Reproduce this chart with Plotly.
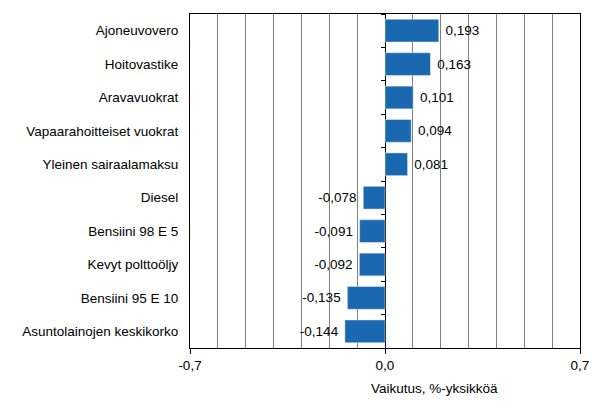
import plotly.graph_objs as go

categories = ["Ajoneuvovero", "Hoitovastike", "Aravavuokrat", "Vapaarahoitteiset vuokrat",
              "Yleinen sairaalamaksu", "Diesel", "Bensiini 98 E 5", "Kevyt polttoöljy",
              "Bensiini 95 E 10", "Asuntolainojen keskikorko"]
values = [0.193, 0.163, 0.101, 0.094, 0.081, -0.078, -0.091, -0.092, -0.135, -0.144]
tick_vals = [-0.7, 0.0, 0.7]
tick_text = ["-0,7", "0,0", "0,7"]

bar_color = "rgb(26,104,176)"
font = dict(family="Liberation Sans, Arial", size=13.5, color="black")

# value labels with a little extra room from the bar end
labels = []
for v in values:
    s = ("%.3f" % v).replace(".", ",")
    labels.append("\u00a0" + s if v > 0 else s + "\u00a0")

fig = go.Figure()
fig.add_trace(go.Bar(x=values, y=categories, orientation="h",
                     marker=dict(color=bar_color, line=dict(width=0)),
                     text=labels, textposition="outside", cliponaxis=False,
                     textfont=font, showlegend=False, hoverinfo="skip"))
# invisible copy, only used to draw the small ticks on the zero line
fig.add_trace(go.Bar(x=values, y=categories, orientation="h", yaxis="y2",
                     marker=dict(color="rgba(0,0,0,0)"), showlegend=False,
                     hoverinfo="skip"))

# page body has an 8px margin, so the figure is 8px smaller than the window
fig.update_layout(
    width=597, height=408,
    margin=dict(l=182, r=25, t=6, b=68, autoexpand=False),
    paper_bgcolor="white", plot_bgcolor="white",
    bargap=0.32,
    font=font,
    xaxis=dict(range=[-0.7, 0.7], tickvals=tick_vals, ticktext=tick_text,
               ticks="outside", ticklen=5, tickcolor="black", automargin=False,
               showline=True, linecolor="black", linewidth=1, mirror=True,
               showgrid=False, zeroline=True, zerolinecolor="black", zerolinewidth=1,
               minor=dict(dtick=0.1, tick0=0, showgrid=True, gridcolor="rgb(128,128,128)",
                          gridwidth=1, ticks=""),
               tickfont=font),
    yaxis=dict(autorange="reversed", showline=True, linecolor="black", linewidth=1,
               mirror=True, ticks="", showgrid=False, ticklabelstandoff=8,
               automargin=False, tickfont=font),
    yaxis2=dict(overlaying="y", anchor="free", position=0.5, autorange="reversed",
                showticklabels=False, ticks="outside", tickson="boundaries", ticklen=4,
                tickwidth=1, tickcolor="black", showline=False, showgrid=False,
                automargin=False),
    annotations=[dict(text="Vaikutus, %-yksikköä", xref="paper", yref="paper",
                      x=0.627, y=-0.12, showarrow=False, xanchor="center", yanchor="middle",
                      font=font)],
)

fig.write_html("out.html")
